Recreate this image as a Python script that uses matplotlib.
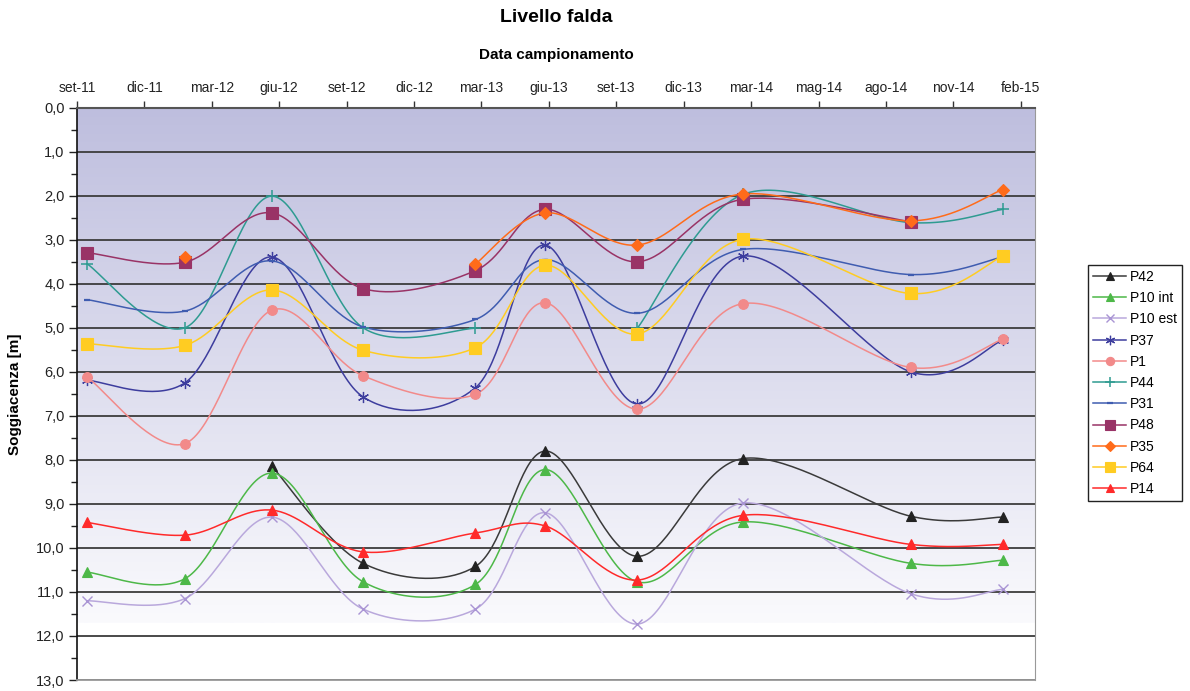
import numpy as np
import matplotlib
matplotlib.use("Agg")
import matplotlib.pyplot as plt
from matplotlib.lines import Line2D
from datetime import date

plt.rcParams['font.family'] = ['Liberation Sans', 'DejaVu Sans']

# ---------------- data ----------------
axis_start = "2011-09-13"
tick_step_days = 90
tick_labels = ["set-11", "dic-11", "mar-12", "giu-12", "set-12", "dic-12", "mar-13",
               "giu-13", "set-13", "dic-13", "mar-14", "mag-14", "ago-14", "nov-14", "feb-15"]
axis_end_days = 1279

sample_dates = ["2011-09-26", "2012-02-04", "2012-05-30", "2012-09-29", "2013-02-26",
                "2013-05-30", "2013-09-30", "2014-02-18", "2014-09-30", "2015-01-31"]

nan = np.nan
P42 = [nan, nan, 8.14, 10.35, 10.42, 7.80, 10.19, 7.97, 9.28, 9.30]
P10_int = [10.55, 10.70, 8.30, 10.77, 10.83, 8.22, 10.77, 9.41, 10.35, 10.28]
P10_est = [11.20, 11.15, 9.30, 11.39, 11.39, 9.20, 11.73, 8.98, 11.04, 10.94]
P37 = [6.19, 6.25, 3.39, 6.57, 6.36, 3.12, 6.73, 3.37, 6.00, 5.28]
P1 = [6.11, 7.63, 4.60, 6.09, 6.51, 4.43, 6.85, 4.45, 5.90, 5.26]
P44 = [3.54, 5.00, 2.01, 5.00, 5.01, nan, 5.01, 1.97, 2.61, 2.31]
P31 = [4.36, 4.62, 3.48, 4.98, 4.81, 3.45, 4.67, 3.22, 3.79, 3.39]
P48 = [3.29, 3.51, 2.39, 4.11, 3.70, 2.31, 3.50, 2.08, 2.59, nan]
P35 = [nan, 3.39, nan, nan, 3.55, 2.39, 3.12, 1.96, 2.57, 1.86]
P64 = [5.36, 5.40, 4.14, 5.51, 5.45, 3.58, 5.14, 2.99, 4.22, 3.37]
P14 = [9.42, 9.71, 9.14, 10.09, 9.66, 9.50, 10.73, 9.26, 9.92, 9.92]

series = [
    ("P42", P42), ("P10 int", P10_int), ("P10 est", P10_est), ("P37", P37),
    ("P1", P1), ("P44", P44), ("P31", P31), ("P48", P48), ("P35", P35),
    ("P64", P64), ("P14", P14),
]

styles = {
    "P42": dict(color="#3a3a3a", mfc="#222222", mec="#222222", marker="^", ms=7, mew=0.8),
    "P10 int": dict(color="#4db848", mfc="#4db848", mec="#4db848", marker="^", ms=7, mew=0.8),
    "P10 est": dict(color="#b9a8dc", mfc="none", mec="#a994d4", marker="x", ms=7, mew=1.0),
    "P37": dict(color="#3d3d9e", mfc="none", mec="#3d3d9e", marker=(6, 2, 0), ms=8, mew=0.9),
    "P1": dict(color="#f28a8a", mfc="#f28a8a", mec="#f28a8a", marker="o", ms=7, mew=0.8),
    "P44": dict(color="#2e9b91", mfc="none", mec="#2e9b91", marker="+", ms=9, mew=1.1),
    "P31": dict(color="#3f5cb0", mfc="#3f5cb0", mec="#3f5cb0", marker="_", ms=5, mew=1.6),
    "P48": dict(color="#993366", mfc="#993366", mec="#993366", marker="s", ms=8, mew=0.8),
    "P35": dict(color="#ff6b1a", mfc="#ff6b1a", mec="#ff6b1a", marker="D", ms=6, mew=0.8),
    "P64": dict(color="#ffcc22", mfc="#ffcc22", mec="#ffcc22", marker="s", ms=8, mew=0.8),
    "P14": dict(color="#ff2a2a", mfc="#ff2a2a", mec="#ff2a2a", marker="^", ms=7, mew=0.8),
}

# ---------------- helpers ----------------
d0 = date.fromisoformat(axis_start)
xdays = np.array([(date.fromisoformat(s) - d0).days for s in sample_dates], float)

W, H = 1190, 691
ax_left, ax_right, ax_top, ax_bot = 77, 1035, 107.7, 680
px_per_day = (ax_right - ax_left) / axis_end_days
px_per_m = (ax_bot - ax_top) / 13.0


def smooth(xs, ys, n=40):
    # Catmull-Rom style Bezier (Excel-like smoothing) computed in screen space
    P = np.column_stack([xs * px_per_day, ys * px_per_m])
    out = [P[0:1]]
    m = len(P)
    for i in range(m - 1):
        p0 = P[i - 1] if i > 0 else P[i]
        p1, p2 = P[i], P[i + 1]
        p3 = P[i + 2] if i + 2 < m else P[i + 1]
        c1 = p1 + (p2 - p0) / 6.0
        c2 = p2 - (p3 - p1) / 6.0
        t = np.linspace(0, 1, n)[1:, None]
        b = ((1 - t) ** 3) * p1 + 3 * ((1 - t) ** 2) * t * c1 + 3 * (1 - t) * t ** 2 * c2 + t ** 3 * p2
        out.append(b)
    Q = np.vstack(out)
    return Q[:, 0] / px_per_day, Q[:, 1] / px_per_m


# ---------------- figure ----------------
fig = plt.figure(figsize=(W / 100, H / 100), dpi=100)
ax = fig.add_axes([ax_left / W, 1 - ax_bot / H, (ax_right - ax_left) / W, (ax_bot - ax_top) / H])

# gradient background
grad_end = 11.7
grad = np.linspace(0, 1, 256)[:, None]
top = np.array([190, 190, 222]) / 255
bot = np.array([250, 250, 253]) / 255
img = top[None, None, :] * (1 - grad[:, :, None]) + bot[None, None, :] * grad[:, :, None]
ax.imshow(img, extent=[0, axis_end_days, grad_end, 0], aspect="auto", zorder=0,
          interpolation="bilinear")

ax.set_xlim(0, axis_end_days)
ax.set_ylim(13, 0)

for y in range(0, 14):
    ax.axhline(y, color="#3c3c3c", lw=1.3, zorder=1)

for name, vals in series:
    st = styles[name]
    v = np.array(vals, float)
    ok = ~np.isnan(v)
    idx = np.where(ok)[0]
    runs = []
    if len(idx):
        cur = [idx[0]]
        for k in idx[1:]:
            if k == cur[-1] + 1:
                cur.append(k)
            else:
                runs.append(cur)
                cur = [k]
        runs.append(cur)
    for r in runs:
        if len(r) > 1:
            sx, sy = smooth(xdays[r], v[r])
            ax.plot(sx, sy, color=st["color"], lw=1.1, zorder=3, solid_capstyle="round")
    ax.plot(xdays[ok], v[ok], ls="none", marker=st["marker"], ms=st["ms"],
            mfc=st["mfc"], mec=st["mec"], mew=st["mew"], zorder=4)

# axes formatting
ax.xaxis.tick_top()
ax.set_xticks(np.arange(len(tick_labels)) * tick_step_days)
ax.set_xticklabels(tick_labels, fontsize=10)
ax.tick_params(axis="x", direction="out", length=5, width=1, color="#333333", pad=4,
               labelcolor="#222222")
ax.set_yticks(np.arange(0, 14))
ax.set_yticklabels([f"{v:.1f}".replace(".", ",") for v in range(0, 14)], fontsize=10.5)
ax.set_yticks(np.arange(0.5, 13, 1.0), minor=True)
ax.tick_params(axis="y", which="major", direction="out", length=6, width=1, color="#222222",
               labelcolor="#222222", pad=3)
ax.tick_params(axis="y", which="minor", direction="out", length=4, width=1, color="#222222")

ax.spines["left"].set_color("#111111")
ax.spines["left"].set_linewidth(1.2)
ax.spines["top"].set_color("#555555")
ax.spines["top"].set_linewidth(1.5)
ax.spines["right"].set_color("#999999")
ax.spines["bottom"].set_color("#999999")
ax.spines["bottom"].set_linewidth(1.3)

ax.set_ylabel("Soggiacenza [m]", fontsize=11, fontweight="bold", labelpad=10)

fig.text((ax_left + ax_right) / 2 / W, 1 - 18 / H, "Livello falda", ha="center", va="center",
         fontsize=14, fontweight="bold")
fig.text((ax_left + ax_right) / 2 / W, 1 - 55 / H, "Data campionamento", ha="center", va="center",
         fontsize=11, fontweight="bold")

# legend
handles = []
for name, _ in series:
    st = styles[name]
    handles.append(Line2D([0], [0], color=st["color"], lw=1.1, marker=st["marker"],
                          ms=st["ms"] * 0.85, mfc=st["mfc"], mec=st["mec"], mew=st["mew"]))
leg = fig.legend(handles, [n for n, _ in series], loc="upper left",
                 bbox_to_anchor=(1088 / W, 1 - 265 / H), fontsize=10, frameon=True,
                 fancybox=False, edgecolor="#222222", handlelength=2.4, handletextpad=0.3,
                 labelspacing=0.52, borderpad=0.35, borderaxespad=0, framealpha=1)
leg.get_frame().set_linewidth(1.0)

fig.savefig("out.png", dpi=100)
